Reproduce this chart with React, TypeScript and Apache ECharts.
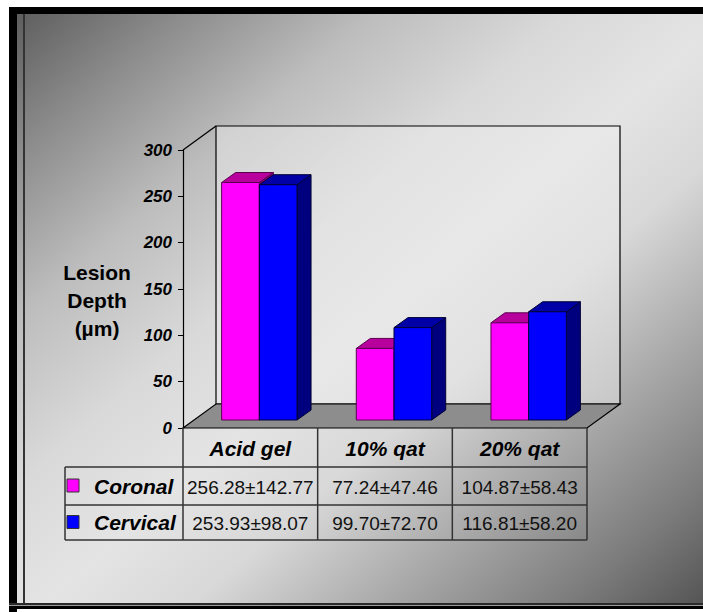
import React, { useEffect, useRef } from "react";
import * as echarts from "echarts";

// ---- data ----
const categories = ["Acid gel", "10% qat", "20% qat"];
const seriesNames = ["Coronal", "Cervical"];
const coronalMean = [256.28, 77.24, 104.87];
const coronalSd = [142.77, 47.46, 58.43];
const cervicalMean = [253.93, 99.7, 116.81];
const cervicalSd = [98.07, 72.7, 58.2];
const yMin = 0;
const yMax = 300;
const yStep = 50;
const yTitle = ["Lesion", "Depth", "(µm)"];

// ---- layout / style ----
const W = 703;
const H = 612;
const GRID = { left: 183, top: 150, width: 404, height: 278 };
const WALL_DX = 33;
const WALL_DY = 24;
const BAR_RATIO = 0.28;
const BAR_SHIFT_X = 9;
const BAR_SHIFT_Y = 8;
const BAR_DX = 14;
const BAR_DY = 10;
const LEGEND_LEFT = 65;
const ROW_BOTTOMS = [467, 505, 540];
const FONT = "'Liberation Sans', Arial, Helvetica, sans-serif";

const FACES = [
  { front: "#ff00ff", top: "#b8009c", side: "#8a0078", edge: "#5a0050" },
  { front: "#0000ff", top: "#0000a6", side: "#00007e", edge: "#000035" },
];

function barRenderer(slot: number) {
  const face = FACES[slot];
  return (params: any, api: any) => {
    const cat = api.value(0);
    const val = api.value(1);
    const base = api.coord([cat, 0]);
    const peak = api.coord([cat, val]);
    const band = api.size([1, 0])[0];
    const bw = band * BAR_RATIO;
    const x0 = base[0] - bw + slot * bw + BAR_SHIFT_X;
    const x1 = x0 + bw;
    const yb = base[1] - BAR_SHIFT_Y;
    const yt = peak[1] - BAR_SHIFT_Y;
    const edge = { stroke: face.edge, lineWidth: 1 };
    return {
      type: "group",
      children: [
        {
          type: "polygon",
          shape: { points: [[x1, yt], [x1 + BAR_DX, yt - BAR_DY], [x1 + BAR_DX, yb - BAR_DY], [x1, yb]] },
          style: { fill: face.side, ...edge },
        },
        {
          type: "polygon",
          shape: { points: [[x0, yt], [x0 + BAR_DX, yt - BAR_DY], [x1 + BAR_DX, yt - BAR_DY], [x1, yt]] },
          style: { fill: face.top, ...edge },
        },
        {
          type: "rect",
          shape: { x: x0, y: yt, width: bw, height: yb - yt },
          style: { fill: face.front, ...edge },
        },
      ],
    };
  };
}

// back wall, side edge and floor of the 3D box
function frameRenderer(params: any) {
  const cs = params.coordSys;
  const L = cs.x;
  const T = cs.y;
  const R = cs.x + cs.width;
  const B = cs.y + cs.height;
  const line = { stroke: "#000", lineWidth: 1.2 };
  return {
    type: "group",
    children: [
      {
        type: "rect",
        shape: { x: L + WALL_DX, y: T - WALL_DY, width: cs.width, height: cs.height },
        style: { fill: "rgba(238,238,238,0.45)", ...line },
      },
      { type: "line", shape: { x1: L, y1: T, x2: L + WALL_DX, y2: T - WALL_DY }, style: line },
      {
        type: "polygon",
        shape: { points: [[L, B], [L + WALL_DX, B - WALL_DY], [R + WALL_DX, B - WALL_DY], [R, B]] },
        style: { fill: "#8d8d8d", ...line },
      },
    ],
  };
}

function fmt(m: number, s: number) {
  return `${m.toFixed(2)}±${s.toFixed(2)}`;
}

function buildGraphics() {
  const els: any[] = [];
  // panel background and frame
  els.push({
    type: "rect",
    z: -10,
    silent: true,
    shape: { x: 17, y: 14, width: W - 17, height: 589 },
    style: {
      fill: {
        type: "linear",
        x: 0,
        y: 0,
        x2: 1,
        y2: 1,
        colorStops: [
          { offset: 0, color: "#5e5e5e" },
          { offset: 0.12, color: "#8c8c8c" },
          { offset: 0.26, color: "#bdbdbd" },
          { offset: 0.4, color: "#d9d9d9" },
          { offset: 0.52, color: "#e4e4e4" },
          { offset: 0.63, color: "#d8d8d8" },
          { offset: 0.76, color: "#ababab" },
          { offset: 0.9, color: "#7c7c7c" },
          { offset: 1, color: "#555555" },
        ],
      },
    },
  });
  els.push({ type: "rect", z: -9, silent: true, shape: { x: 9, y: 7, width: W - 9, height: 7 }, style: { fill: "#000" } });
  els.push({ type: "rect", z: -9, silent: true, shape: { x: 9, y: 7, width: 8, height: H - 7 }, style: { fill: "#000" } });
  els.push({ type: "rect", z: -9, silent: true, shape: { x: 23, y: 14, width: 2, height: 589 }, style: { fill: "#333" } });
  els.push({ type: "rect", z: -9, silent: true, shape: { x: 9, y: 603, width: W - 9, height: 2 }, style: { fill: "#2a2a2a" } });
  els.push({ type: "rect", z: -9, silent: true, shape: { x: 9, y: 605, width: W - 9, height: 1 }, style: { fill: "#9a9a9a" } });
  els.push({ type: "rect", z: -9, silent: true, shape: { x: 9, y: 606, width: W - 9, height: 3 }, style: { fill: "#000" } });

  // y axis title
  els.push({
    type: "text",
    z: 10,
    x: 97,
    y: 300,
    style: {
      text: yTitle.join("\n"),
      font: `bold 21px ${FONT}`,
      fill: "#000",
      align: "center",
      verticalAlign: "middle",
      lineHeight: 28,
    },
  });

  // data table
  const colX = [0, 1, 2, 3].map((i) => GRID.left + (GRID.width * i) / 3);
  const headerTop = GRID.top + GRID.height;
  const rows = [headerTop, ...ROW_BOTTOMS];
  const tableLine = { stroke: "#333", lineWidth: 1.5 };
  colX.forEach((x) => {
    els.push({ type: "line", z: 10, shape: { x1: x, y1: headerTop, x2: x, y2: rows[3] }, style: tableLine });
  });
  els.push({ type: "line", z: 10, shape: { x1: LEGEND_LEFT, y1: rows[1], x2: LEGEND_LEFT, y2: rows[3] }, style: tableLine });
  [1, 2, 3].forEach((r) => {
    els.push({ type: "line", z: 10, shape: { x1: LEGEND_LEFT, y1: rows[r], x2: colX[3], y2: rows[r] }, style: tableLine });
  });

  const rowData = [
    { means: coronalMean, sds: coronalSd },
    { means: cervicalMean, sds: cervicalSd },
  ];
  rowData.forEach((row, r) => {
    const cy = (rows[r + 1] + rows[r + 2]) / 2;
    els.push({
      type: "rect",
      z: 10,
      shape: { x: 67, y: cy - 7, width: 12, height: 13 },
      style: { fill: FACES[r].front, stroke: "#333", lineWidth: 1 },
    });
    els.push({
      type: "text",
      z: 10,
      x: 94,
      y: cy,
      style: {
        text: seriesNames[r],
        font: `italic bold 21px ${FONT}`,
        fill: "#000",
        align: "left",
        verticalAlign: "middle",
      },
    });
    row.means.forEach((m, c) => {
      els.push({
        type: "text",
        z: 10,
        x: (colX[c] + colX[c + 1]) / 2,
        y: cy + 1,
        style: {
          text: fmt(m, row.sds[c]),
          font: `19px ${FONT}`,
          fill: "#111",
          align: "center",
          verticalAlign: "middle",
        },
      });
    });
  });
  return els;
}

export default function App() {
  const ref = useRef<HTMLDivElement>(null);
  useEffect(() => {
    if (!ref.current) return;
    const chart = echarts.init(ref.current, null, { renderer: "svg" });
    chart.setOption({
      animation: false,
      backgroundColor: "#ffffff",
      grid: { left: GRID.left, top: GRID.top, width: GRID.width, height: GRID.height, containLabel: false },
      xAxis: {
        type: "category",
        data: categories,
        axisLine: { show: false },
        axisTick: { show: false },
        splitLine: { show: false },
        axisLabel: {
          margin: 10,
          color: "#000",
          fontFamily: FONT,
          fontSize: 21,
          fontWeight: "bold",
          fontStyle: "italic",
        },
      },
      yAxis: {
        type: "value",
        min: yMin,
        max: yMax,
        interval: yStep,
        axisLine: { show: true, lineStyle: { color: "#000", width: 1.2 } },
        axisTick: { show: true, length: 5, lineStyle: { color: "#000" } },
        splitLine: { show: false },
        axisLabel: {
          margin: 11,
          color: "#000",
          fontFamily: FONT,
          fontSize: 17,
          fontWeight: "bold",
          fontStyle: "italic",
        },
      },
      graphic: buildGraphics(),
      series: [
        {
          type: "custom",
          name: "frame",
          z: 1,
          clip: false,
          silent: true,
          renderItem: frameRenderer,
          data: [[0, 0]],
        },
        {
          type: "custom",
          name: seriesNames[0],
          z: 2,
          clip: false,
          renderItem: barRenderer(0),
          data: coronalMean.map((v, i) => [i, v]),
        },
        {
          type: "custom",
          name: seriesNames[1],
          z: 3,
          clip: false,
          renderItem: barRenderer(1),
          data: cervicalMean.map((v, i) => [i, v]),
        },
      ],
    });
    return () => chart.dispose();
  }, []);
  return <div ref={ref} style={{ position: "fixed", left: 0, top: 0, width: W, height: H }} />;
}
